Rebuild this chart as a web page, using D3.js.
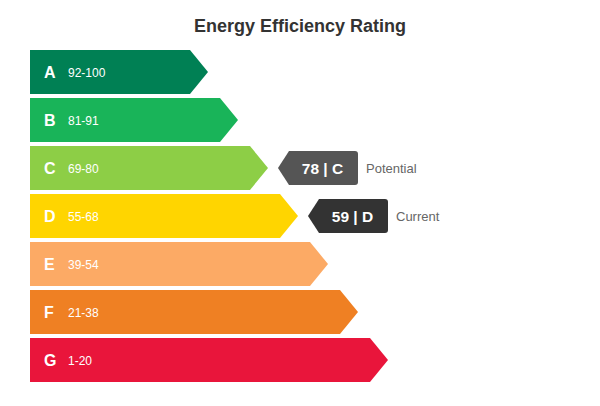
<!DOCTYPE html>
<html>
<head>
<meta charset="utf-8">
<script src="https://cdn.jsdelivr.net/npm/d3@7"></script>
<style>
  body { margin: 0; background: #fff; }
  svg { font-family: "Liberation Sans", Arial, sans-serif; }
</style>
</head>
<body>
<svg id="chart" width="600" height="406"></svg>
<script>
const grades = ["A", "B", "C", "D", "E", "F", "G"];
const ranges = ["92-100", "81-91", "69-80", "55-68", "39-54", "21-38", "1-20"];
const lows = [92, 81, 69, 55, 39, 21, 1];
const colours = ["#008054", "#19b459", "#8dce46", "#ffd500", "#fcaa65", "#ef8023", "#e9153b"];

const markerLabels = ["Potential", "Current"];
const markerScores = [78, 59];
const markerColours = ["#555555", "#333333"];

const svg = d3.select("#chart");

svg.append("text")
    .attr("x", 300)
    .attr("y", 32)
    .attr("text-anchor", "middle")
    .style("font-size", "18px")
    .style("font-weight", "bold")
    .style("fill", "#333")
    .text("Energy Efficiency Rating");

const gy = d3.scaleBand()
    .domain(grades)
    .range([50, 382])
    .paddingInner(1 / 12);

// bar length grows by grade
const gx = d3.scaleLinear()
    .domain([0, grades.length - 1])
    .range([190, 370]);

const tip = 18;
const h = gy.bandwidth();

const dataset = grades.map(function(g, i) {
    return { grade: g, range: ranges[i], low: lows[i], color: colours[i], idx: i };
});

function barPath(d) {
    const y0 = gy(d.grade), x1 = gx(d.idx);
    return "M30," + y0 + "H" + x1 + "L" + (x1 + tip) + "," + (y0 + h / 2) +
        "L" + x1 + "," + (y0 + h) + "H30Z";
}

const filas = svg.selectAll("g.fila")
    .data(dataset)
    .enter()
    .append("g")
    .attr("class", "fila");

filas.append("path")
    .attr("d", barPath)
    .style("fill", function(d) { return d.color; });

filas.append("text")
    .attr("x", 44)
    .attr("y", function(d) { return gy(d.grade) + h / 2 + 6; })
    .style("font-size", "16px")
    .style("font-weight", "bold")
    .style("fill", "#fff")
    .text(function(d) { return d.grade; });

filas.append("text")
    .attr("x", 68)
    .attr("y", function(d) { return gy(d.grade) + h / 2 + 4.5; })
    .style("font-size", "12px")
    .style("fill", "#fff")
    .text(function(d) { return d.range; });

// markers: find the row a score belongs to
function gradeOf(score) {
    return dataset.find(function(d) { return score >= d.low; });
}

const marcas = markerLabels.map(function(lbl, i) {
    return { label: lbl, score: markerScores[i], color: markerColours[i], row: gradeOf(markerScores[i]) };
});

const mh = 34, mw = 80, mtip = 11, r = 3;

const mg = svg.selectAll("g.marca")
    .data(marcas)
    .enter()
    .append("g")
    .attr("class", "marca")
    .attr("transform", function(d) {
        const x0 = gx(d.row.idx) + tip + 10;
        const y0 = gy(d.row.grade) + (h - mh) / 2;
        return "translate(" + x0 + "," + y0 + ")";
    });

mg.append("path")
    .attr("d", "M0," + (mh / 2) + "L" + mtip + ",0H" + (mw - r) +
        "Q" + mw + ",0 " + mw + "," + r + "V" + (mh - r) +
        "Q" + mw + "," + mh + " " + (mw - r) + "," + mh + "H" + mtip + "Z")
    .style("fill", function(d) { return d.color; });

mg.append("text")
    .attr("x", 44.5)
    .attr("y", mh / 2 + 6)
    .attr("text-anchor", "middle")
    .style("font-size", "15.5px")
    .style("font-weight", "bold")
    .style("fill", "#fff")
    .text(function(d) { return d.score + " | " + d.row.grade; });

mg.append("text")
    .attr("x", mw + 8)
    .attr("y", mh / 2 + 5)
    .style("font-size", "13px")
    .style("fill", "#666")
    .text(function(d) { return d.label; });
</script>
</body>
</html>
